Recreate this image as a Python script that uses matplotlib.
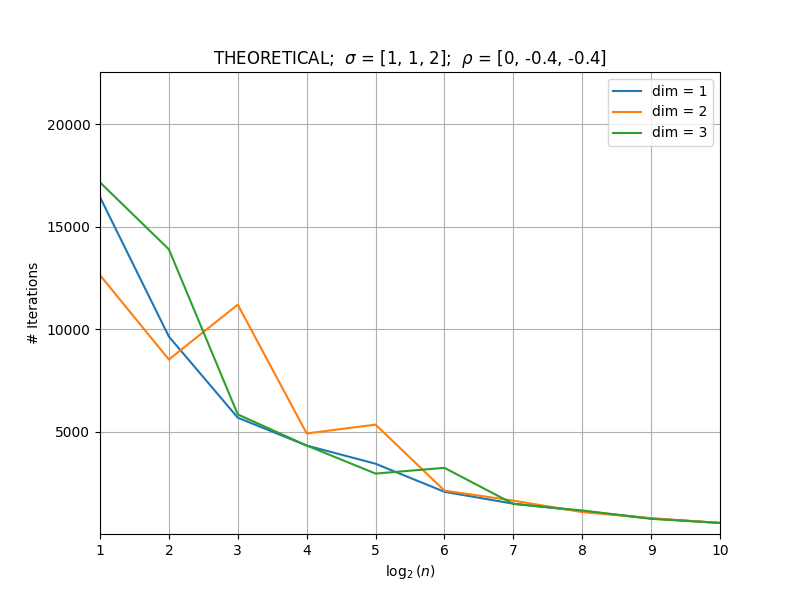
import matplotlib
matplotlib.use("Agg")
import matplotlib.pyplot as plt

log2_n = [1, 2, 3, 4, 5, 6, 7, 8, 9, 10]
iters_dim1 = [16450, 9640, 5680, 4320, 3430, 2060, 1480, 1120, 760, 540]
iters_dim2 = [12640, 8520, 11200, 4910, 5340, 2120, 1630, 1070, 770, 540]
iters_dim3 = [17170, 13900, 5840, 4320, 2950, 3230, 1470, 1150, 740, 540]

fig = plt.figure(figsize=(8, 6), dpi=100)
plt.plot(log2_n, iters_dim1, label='dim = 1')
plt.plot(log2_n, iters_dim2, label='dim = 2')
plt.plot(log2_n, iters_dim3, label='dim = 3')
plt.xlim(1, 10)
plt.ylim(0, 22560)
plt.yticks([5000, 10000, 15000, 20000])
plt.xticks(log2_n)
plt.title(r'THEORETICAL;  $\sigma$ = [1, 1, 2];  $\rho$ = [0, -0.4, -0.4]')
plt.xlabel(r'$\log_2(n)$')
plt.ylabel('# Iterations')
plt.grid(True)
plt.legend(loc='upper right')
plt.savefig('out.png')
